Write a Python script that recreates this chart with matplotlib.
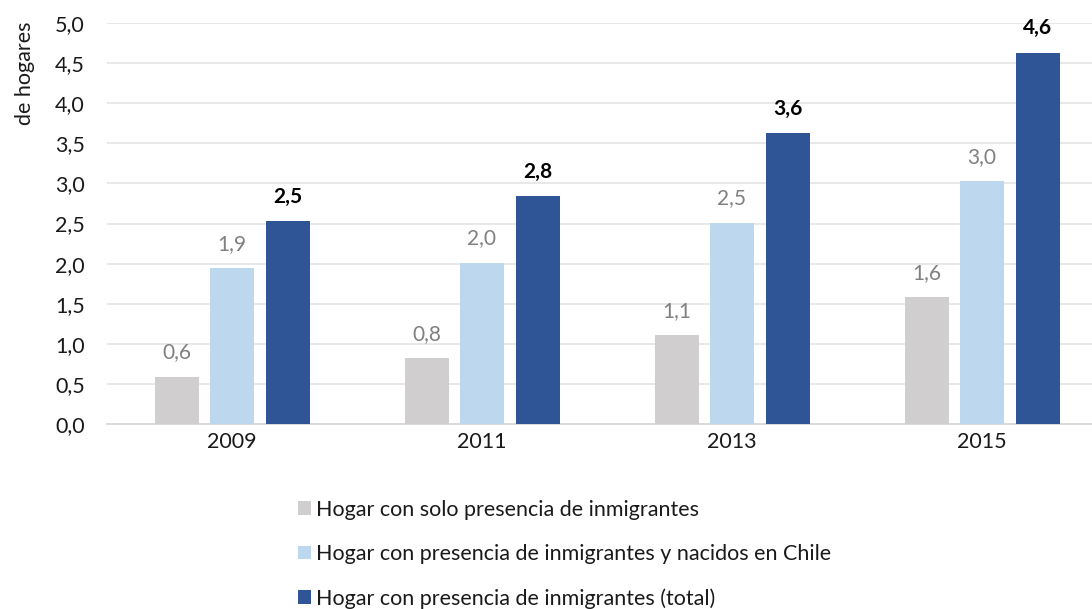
import numpy as np
import matplotlib
matplotlib.use("Agg")
import matplotlib.pyplot as plt
from matplotlib.patches import Patch

# Data
years = ["2009", "2011", "2013", "2015"]
solo_inmigrantes = [0.59, 0.82, 1.11, 1.58]
mixto = [1.94, 2.01, 2.51, 3.03]
total = [2.53, 2.84, 3.63, 4.63]
series_names = [
    "Hogar con solo presencia de inmigrantes",
    "Hogar con presencia de inmigrantes y nacidos en Chile",
    "Hogar con presencia de inmigrantes (total)",
]
yticks = [0.0, 0.5, 1.0, 1.5, 2.0, 2.5, 3.0, 3.5, 4.0, 4.5, 5.0]

plt.rcParams['font.family'] = ['Lato', 'DejaVu Sans']

W, H = 1092, 609
fig = plt.figure(figsize=(W / 100, H / 100), dpi=100)
ax = fig.add_axes([107 / W, 1 - 424 / H, 1000 / W, (424 - 23) / H])

colors = ["#d0cece", "#bdd7ee", "#2f5597"]
x = np.arange(len(years))
width = 0.176
step = 0.222
series = [solo_inmigrantes, mixto, total]

for i, (vals, col) in enumerate(zip(series, colors)):
    pos = x + (i - 1) * step
    bars = ax.bar(pos, vals, width=width, color=col, zorder=3)
    for b, v in zip(bars, vals):
        label = f"{v:.1f}".replace(".", ",")
        if i == 2:
            ax.annotate(label, (b.get_x() + b.get_width() / 2, v), xytext=(0, 17.5),
                        textcoords="offset points", ha="center", va="center",
                        fontsize=15, fontweight="bold", color="black")
        else:
            ax.annotate(label, (b.get_x() + b.get_width() / 2, v), xytext=(0, 17.5),
                        textcoords="offset points", ha="center", va="center",
                        fontsize=15, color="#808080")

ax.set_xlim(-0.5, 3.5)
ax.set_ylim(0, 5)
ax.set_yticks(yticks)
ax.set_yticklabels([f"{t:.1f}".replace(".", ",") for t in yticks])
ax.set_xticks(x)
ax.set_xticklabels(years)
ax.tick_params(axis="y", length=0, pad=16, labelsize=15.5, labelcolor="#1a1a1a")
ax.tick_params(axis="x", length=0, pad=6, labelsize=15.5, labelcolor="#1a1a1a")
ax.grid(True, axis="y", color="#e6e6e6", linewidth=1.3, zorder=0)
for s in ["top", "right", "left"]:
    ax.spines[s].set_visible(False)
ax.spines["bottom"].set_color("#d9d9d9")
ax.spines["bottom"].set_linewidth(1.3)

fig.text(25 / W, 1 - 73 / H, "de hogares", rotation=90, ha="center", va="center",
         fontsize=15.5, color="#1a1a1a")

handles = [Patch(facecolor=c, edgecolor="none") for c in colors]
leg = fig.legend(handles, series_names, loc="upper left",
                 bbox_to_anchor=(289 / W, 1 - 491 / H), frameon=False,
                 fontsize=15.5, handlelength=0.6, handleheight=0.6,
                 handletextpad=0.25, labelspacing=1.13, borderaxespad=0)
for t in leg.get_texts():
    t.set_color("#1a1a1a")

fig.savefig("out.png", dpi=100)
